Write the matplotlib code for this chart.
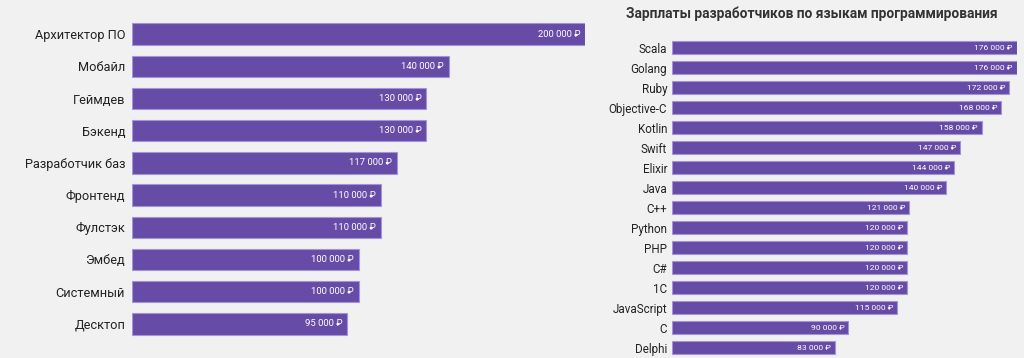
import matplotlib
matplotlib.use("Agg")
import matplotlib.pyplot as plt

# ── Data ──────────────────────────────────────────────────────────────────────

ROLES        = ["Архитектор ПО", "Мобайл", "Геймдев", "Бэкенд", "Разработчик баз",
                "Фронтенд", "Фулстэк", "Эмбед", "Системный", "Десктоп"]
ROLE_SALARY  = [200000, 140000, 130000, 130000, 117000, 110000, 110000, 100000, 100000, 95000]

LANGS        = ["Scala", "Golang", "Ruby", "Objective-C", "Kotlin", "Swift", "Elixir", "Java",
                "C++", "Python", "PHP", "C#", "1C", "JavaScript", "C", "Delphi"]
LANG_SALARY  = [176000, 176000, 172000, 168000, 158000, 147000, 144000, 140000,
                121000, 120000, 120000, 120000, 120000, 115000, 90000, 83000]

TITLE = "Зарплаты разработчиков по языкам программирования"

# ── Style ─────────────────────────────────────────────────────────────────────

BG        = "#f2f1f2"
BAR       = "#664ca6"
BAR_EDGE  = "#a294d6"
TEXT      = "#222222"

plt.rcParams["font.family"] = ["Roboto", "DejaVu Sans"]


def fmt(v):
    return f"{v:,.0f}".replace(",", " ") + " ₽"


def draw_panel(ax, labels, values, height, label_size, value_size, pad, value_off):
    y = range(len(labels))
    ax.barh(y, values, height=height, color=BAR, edgecolor=BAR_EDGE, linewidth=0.8)
    ax.set_ylim(len(labels) - 0.5, -0.5)
    ax.set_xlim(0, max(values))
    ax.set_yticks(list(y))
    ax.set_yticklabels(labels, fontsize=label_size, color=TEXT)
    ax.tick_params(axis="y", length=0, pad=pad)
    ax.set_xticks([])
    for s in ax.spines.values():
        s.set_visible(False)
    ax.patch.set_alpha(0)
    for yi, v in zip(y, values):
        ax.annotate(fmt(v), (v, yi), xytext=(-value_off, 0), textcoords="offset points",
                    ha="right", va="center", color="white", fontsize=value_size)


fig = plt.figure(figsize=(10.24, 3.58), dpi=100, facecolor=BG)

W, H = 1024, 358

# left panel
ax1 = fig.add_axes([132 / W, 1 - 340 / H, (585 - 132) / W, 322 / H])
draw_panel(ax1, ROLES, ROLE_SALARY, 0.66, 9.2, 6.8, 5, 3.5)

# right panel
ax2 = fig.add_axes([672 / W, 1 - 357.7 / H, (1017 - 672) / W, 320 / H])
draw_panel(ax2, LANGS, LANG_SALARY, 0.63, 8.4, 6.1, 3.5, 3)

fig.text(812 / W, 1 - 14 / H, TITLE, ha="center", va="center",
         fontsize=9.9, fontweight="bold", color="#333333")

fig.savefig("out.png", dpi=100, facecolor=BG)
